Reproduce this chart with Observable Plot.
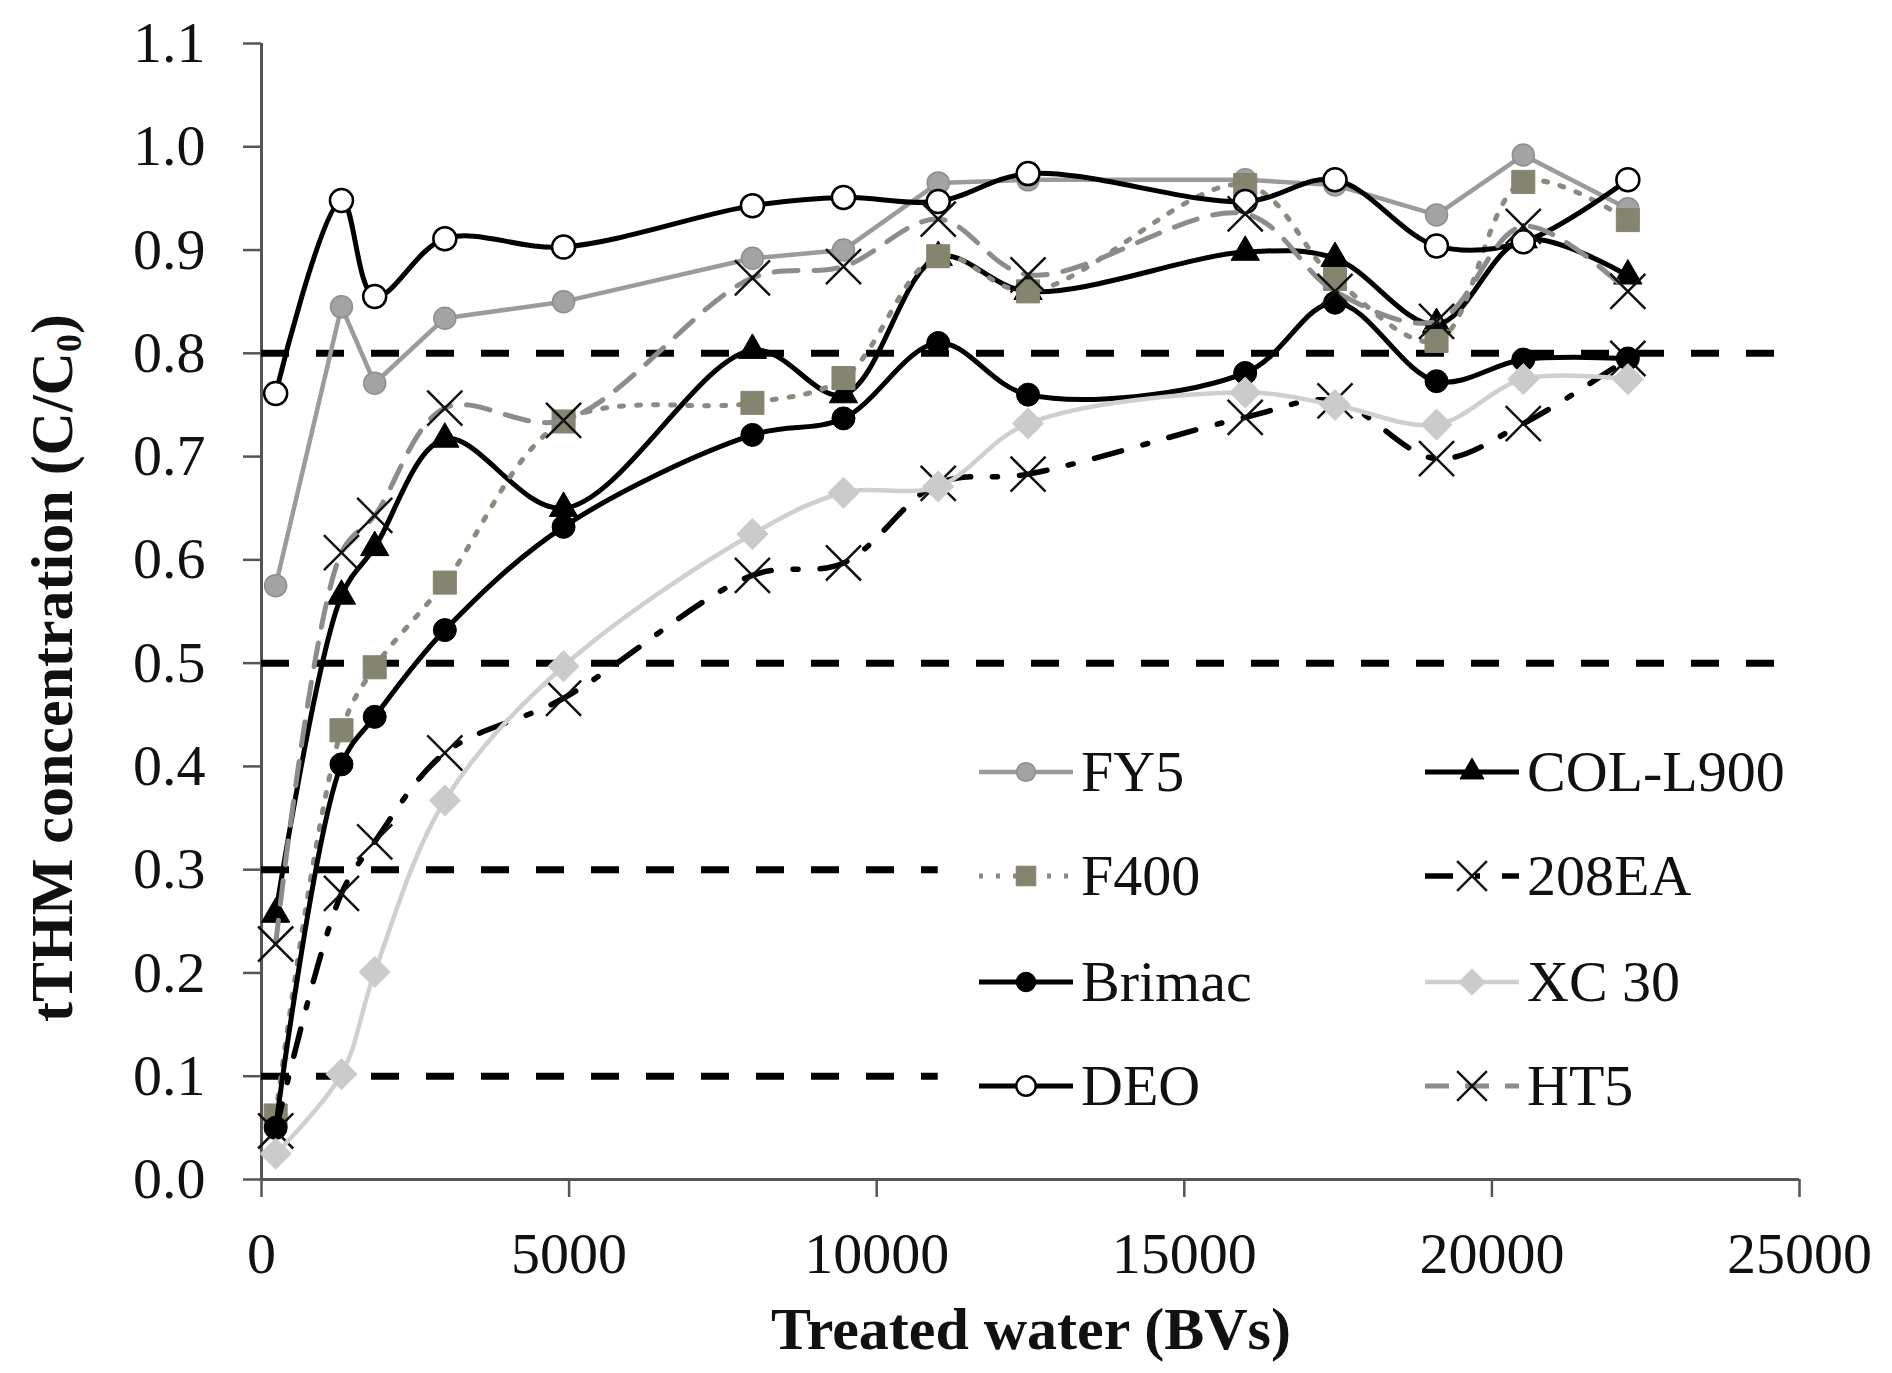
<!DOCTYPE html>
<html>
<head>
<meta charset="utf-8">
<script src="https://cdn.jsdelivr.net/npm/d3@7"></script>
<script src="https://cdn.jsdelivr.net/npm/@observablehq/plot@0.6"></script>
<style>
  html, body { margin: 0; padding: 0; background: #fff; }
  #wrap { position: relative; width: 1892px; height: 1373px; font-family: "Liberation Serif", "Times New Roman", serif; color: #111; }
  #wrap svg.plot { position: absolute; left: 0; top: 0; }
  #ytitle { position: absolute; left: 52px; top: 668px; transform: translate(-50%, -50%) rotate(-90deg); font-weight: bold; font-size: 60px; line-height: 60px; white-space: nowrap; }
  #ytitle sub { font-size: 0.6em; vertical-align: -0.25em; line-height: 0; }
  #xtitle { position: absolute; left: 1031px; top: 1299px; transform: translateX(-50%); font-weight: bold; font-size: 60px; line-height: 60px; white-space: nowrap; }
  .leg { position: absolute; display: flex; align-items: center; font-size: 58px; line-height: 58px; white-space: nowrap; transform: translateY(-50%); }
  .leg svg { display: block; margin-right: 8px; overflow: visible; }
</style>
</head>
<body>
<div id="wrap">
  <div id="ytitle">tTHM concentration (C/C<sub>0</sub>)</div>
  <div id="xtitle">Treated water (BVs)</div>
</div>
<script>
// ---------- data ----------
const bvs     = [230, 1300, 1840, 2980, 4910, 7980, 9460, 11000, 12460, 15990, 17450, 19100, 20510, 22210];
const fy5     = [0.575, 0.845, 0.771, 0.834, 0.850, 0.892, 0.900, 0.965, 0.968, 0.968, 0.963, 0.934, 0.992, 0.940];
const colL900 = [0.257, 0.565, 0.612, 0.717, 0.650, 0.803, 0.760, 0.893, 0.860, 0.898, 0.892, 0.828, 0.910, 0.875];
const f400    = [0.062, 0.435, 0.496, 0.578, 0.734, 0.752, 0.776, 0.894, 0.860, 0.963, 0.872, 0.812, 0.966, 0.929];
const ea208   = [0.047, 0.277, 0.327, 0.413, 0.466, 0.585, 0.597, 0.674, 0.683, 0.738, 0.754, 0.698, 0.732, 0.795];
const brimac  = [0.050, 0.402, 0.448, 0.532, 0.632, 0.721, 0.737, 0.810, 0.760, 0.781, 0.849, 0.773, 0.794, 0.795];
const xc30    = [0.025, 0.102, 0.201, 0.367, 0.497, 0.625, 0.665, 0.671, 0.732, 0.762, 0.750, 0.731, 0.775, 0.775];
const deo     = [0.761, 0.948, 0.855, 0.911, 0.903, 0.943, 0.951, 0.947, 0.974, 0.947, 0.968, 0.904, 0.908, 0.968];
const ht5     = [0.228, 0.607, 0.643, 0.747, 0.735, 0.873, 0.884, 0.930, 0.876, 0.935, 0.860, 0.831, 0.923, 0.860];

const thresholdLevels = [0.8, 0.5, 0.3, 0.1];
const thresholdStarts = [0, 0, 0, 0];
const thresholdEnds   = [25000, 25000, 11000, 11000];

const xDomain = [0, 25000];
const yDomain = [0, 1.1];
const xTicks = [0, 5000, 10000, 15000, 20000, 25000];
const yTicks = [0.0, 0.1, 0.2, 0.3, 0.4, 0.5, 0.6, 0.7, 0.8, 0.9, 1.0, 1.1];

// ---------- styles ----------
const series = [
  {name: "FY5", values: fy5,
   line: {stroke: "#9b9b9b", strokeWidth: 4.5, curve: "linear"},
   dot: {symbol: "circle", r: 11, fill: "#a3a3a3", stroke: "#8e8e8e", strokeWidth: 1.5}},
  {name: "COL-L900", values: colL900,
   line: {stroke: "#000", strokeWidth: 5, curve: "catmull-rom"},
   dot: {symbol: "triangle", r: 10.5, fill: "#000", stroke: "#000", strokeWidth: 1}},
  {name: "F400", values: f400,
   line: {stroke: "#8a8a7e", strokeWidth: 5, strokeDasharray: "4,13", curve: "catmull-rom"},
   dot: {symbol: "square", r: 13, fill: "#84846f", stroke: "#84846f", strokeWidth: 1}},
  {name: "208EA", values: ea208,
   line: {stroke: "#000", strokeWidth: 5.5, strokeDasharray: "28,22,5,22", curve: "catmull-rom"},
   dot: {symbol: "times", r: 16, fill: "none", stroke: "#111", strokeWidth: 2.5}},
  {name: "Brimac", values: brimac,
   line: {stroke: "#000", strokeWidth: 5, curve: "catmull-rom"},
   dot: {symbol: "circle", r: 11.5, fill: "#000", stroke: "#000", strokeWidth: 1}},
  {name: "XC 30", values: xc30,
   line: {stroke: "#cfcfcf", strokeWidth: 4.5, curve: "catmull-rom"},
   dot: {symbol: "diamond2", r: 14, fill: "#cbcbcb", stroke: "#cbcbcb", strokeWidth: 1}},
  {name: "DEO", values: deo,
   line: {stroke: "#000", strokeWidth: 5, curve: "catmull-rom"},
   dot: {symbol: "circle", r: 11.5, fill: "#fff", stroke: "#000", strokeWidth: 2.5}},
  {name: "HT5", values: ht5,
   line: {stroke: "#8c8c8c", strokeWidth: 5, strokeDasharray: "24,16", curve: "catmull-rom"},
   dot: {symbol: "times", r: 16, fill: "none", stroke: "#111", strokeWidth: 2.5}}
];

const thresholdRows = thresholdLevels.map((level, i) => ({level, x1: thresholdStarts[i], x2: thresholdEnds[i]}));
const rowsOf = (vals) => bvs.map((x, i) => ({x, y: vals[i]}));

const marks = [
  Plot.ruleX([xDomain[0]], {y1: yDomain[0], y2: yDomain[1], stroke: "#555", strokeWidth: 3}),
  Plot.ruleY([yDomain[0]], {x1: xDomain[0], x2: xDomain[1], stroke: "#555", strokeWidth: 3}),
  Plot.axisX({ticks: xTicks, tickSize: 18, tickPadding: 34, tickFormat: d => String(d), stroke: "#555", strokeWidth: 2.5, fill: "#111", label: null}),
  Plot.axisY({ticks: yTicks, tickSize: 18, tickPadding: 38, tickFormat: d3.format(".1f"), stroke: "#555", strokeWidth: 2.5, fill: "#111", label: null}),
  Plot.ruleY(thresholdRows, {y: "level", x1: "x1", x2: "x2", stroke: "#000", strokeWidth: 7, strokeDasharray: "28,27"})
];
for (const s of series) {
  const data = rowsOf(s.values);
  marks.push(Plot.line(data, {x: "x", y: "y", ...s.line}));
  marks.push(Plot.dot(data, {x: "x", y: "y", ...s.dot}));
}

const chart = Plot.plot({
  width: 1892,
  height: 1373,
  marginLeft: 261,
  marginRight: 93,
  marginTop: 43,
  marginBottom: 194,
  x: {domain: xDomain},
  y: {domain: yDomain},
  style: {fontFamily: "Liberation Serif, Times New Roman, serif", fontSize: "58px", color: "#111", background: "transparent", overflow: "visible"},
  marks
});
chart.classList.add("plot");
const wrap = document.getElementById("wrap");
wrap.insertBefore(chart, wrap.firstChild);

// ---------- legend (HTML overlay) ----------
const legendOrder = ["FY5", "COL-L900", "F400", "208EA", "Brimac", "XC 30", "DEO", "HT5"];
const legendColX = [979, 1425];
const legendRowY = [772, 876, 982, 1086];
const symbolMap = {circle: d3.symbolCircle, triangle: d3.symbolTriangle, square: d3.symbolSquare, times: d3.symbolTimes, diamond2: d3.symbolDiamond2};
legendOrder.forEach((name, i) => {
  const s = series.find(d => d.name === name);
  const col = i % 2, row = Math.floor(i / 2);
  const div = document.createElement("div");
  div.className = "leg";
  div.style.left = legendColX[col] + "px";
  div.style.top = legendRowY[row] + "px";
  const W = 94, H = 40;
  const svg = d3.create("svg").attr("width", W).attr("height", H);
  svg.append("line").attr("x1", 0).attr("x2", W).attr("y1", H / 2).attr("y2", H / 2)
    .attr("stroke", s.line.stroke).attr("stroke-width", s.line.strokeWidth)
    .attr("stroke-dasharray", s.line.strokeDasharray || null);
  const r = s.dot.r * 0.85;
  svg.append("path")
    .attr("transform", `translate(${W / 2},${H / 2})`)
    .attr("d", d3.symbol(symbolMap[s.dot.symbol], Math.PI * r * r)())
    .attr("fill", s.dot.fill).attr("stroke", s.dot.stroke).attr("stroke-width", s.dot.strokeWidth);
  div.appendChild(svg.node());
  const span = document.createElement("span");
  span.textContent = name;
  div.appendChild(span);
  wrap.appendChild(div);
});
</script>
</body>
</html>
